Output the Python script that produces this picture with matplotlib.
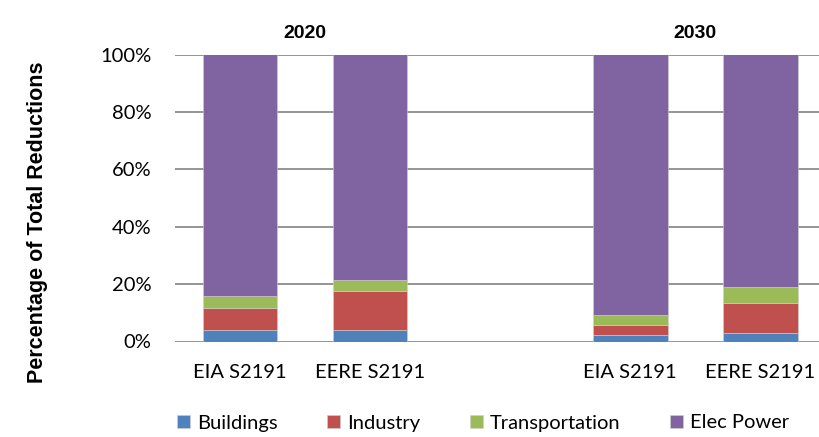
import matplotlib.pyplot as plt
import numpy as np

# datos (porcentaje del total de reducciones)
escenarios = ["EIA S2191", "EERE S2191", "", "EIA S2191", "EERE S2191"]
anios = ["2020", "2030"]
sectores = ["Buildings", "Industry", "Transportation", "Elec Power"]
buildings = [4.1, 4.1, np.nan, 2.1, 2.9]
industry = [7.4, 13.5, np.nan, 3.7, 10.5]
transportation = [4.5, 4.0, np.nan, 3.3, 5.7]
elecPower = [84.0, 78.4, np.nan, 90.9, 80.9]

colors = ['#4F81BD', '#C0504D', '#9BBB59', '#8064A2']
series = [buildings, industry, transportation, elecPower]

plt.rcParams['font.family'] = ['Lato', 'DejaVu Sans']

fig = plt.figure(figsize=(8.2, 4.37), dpi=100)
ax = fig.add_axes([175 / 820, 95.5 / 437, 645 / 820, 287 / 437])

x = np.arange(len(escenarios))
bottom = np.zeros(len(escenarios))
for i in range(len(series)):
    vals = np.nan_to_num(np.array(series[i], dtype=float))
    ax.bar(x, vals, 0.575, bottom=bottom, color=colors[i], label=sectores[i],
           edgecolor='#d0d0d0', linewidth=0.4, zorder=3)
    bottom += vals

ax.set_xlim(-0.5, 4.46)
ax.set_ylim(0, 100)
ax.set_yticks(np.arange(0, 101, 20))
ax.set_yticklabels([f"{v}%" for v in range(0, 101, 20)], fontsize=14.5)
ax.set_xticks(x)
ax.set_xticklabels(escenarios, fontsize=14.5)
ax.tick_params(axis='y', length=0, pad=17)
ax.tick_params(axis='x', length=0, pad=16)
ax.grid(axis='y', color='#8c8c8c', linewidth=1.3, zorder=0)
for s in ax.spines.values():
    s.set_visible(False)

# titulos de grupo
ax.text(0.5, 104.5, anios[0], ha='center', va='bottom', fontsize=14,
        fontweight='bold', family='Liberation Sans')
ax.text(3.5, 104.5, anios[1], ha='center', va='bottom', fontsize=14,
        fontweight='bold', family='Liberation Sans')

fig.text(38 / 820, 0.491, "Percentage of Total Reductions", rotation=90,
         ha='center', va='center', fontsize=15.5, fontweight='bold',
         family='Liberation Sans')

fig.legend(loc='center', bbox_to_anchor=(483 / 820, 1 - 423 / 437), ncol=4,
           frameon=False, fontsize=14.5, handlelength=0.65, handleheight=0.65,
           columnspacing=2.45, handletextpad=0.35)

plt.savefig("out.png")
